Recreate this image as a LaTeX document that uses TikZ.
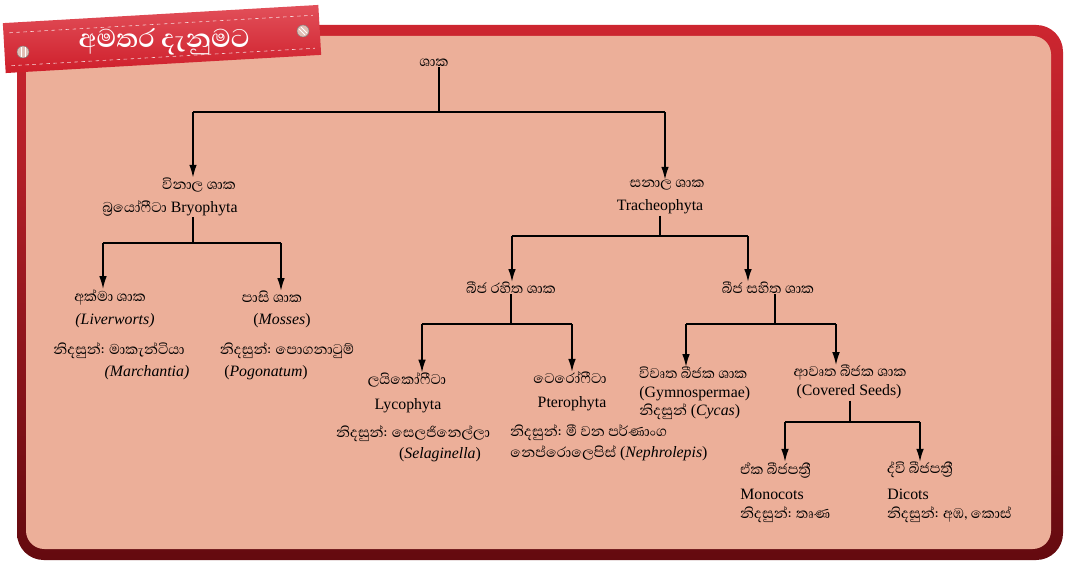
\documentclass[tikz,border=0pt]{standalone}
\usepackage{fontspec}
\setmainfont{Liberation Serif}
\newfontfamily\sinfont[Script=Sinhala]{Abhaya Libre}
\usetikzlibrary{arrows.meta}
\definecolor{panel}{RGB}{236,175,153}
\definecolor{framered}{RGB}{205,38,48}
\definecolor{framedark}{RGB}{100,10,15}
\definecolor{ribbon}{RGB}{206,30,42}
\definecolor{ribbonlight}{RGB}{226,80,90}
\definecolor{screw}{RGB}{226,190,180}
\newcommand{\snh}[1]{{\sinfont\fontsize{15.5}{18}\selectfont #1}}
\begin{document}
\begin{tikzpicture}[x=0.03cm, y=-0.03cm,
  sn/.style={font=\sinfont\fontsize{15.5}{18}\selectfont, inner sep=0pt},
  en/.style={font=\fontsize{13.5}{16}\selectfont, inner sep=1pt},
  ln/.style={line width=1.3pt},
  arr/.style={ln, -{Latex[length=11pt,width=6.5pt]}}]
  \useasboundingbox (0,0) rectangle (1065,563);
  \fill[white] (0,0) rectangle (1065,563);
  % frame
  \shade[top color=framered, bottom color=framedark, rounded corners=0.8cm] (17,25) rectangle (1063,560);
  \fill[panel, rounded corners=0.55cm] (26,36) rectangle (1051,549);
  % ribbon
  \begin{scope}[shift={(162,39)}, rotate=3.3]
    \shade[top color=ribbonlight, bottom color=ribbon] (-158,-25) rectangle (158,25);
    \draw[white, dashed, line width=0.5pt, opacity=0.8] (-152,-15) -- (152,-15);
    \draw[white, dashed, line width=0.5pt, opacity=0.8] (-152,18) -- (152,18);
    \node[white, font=\sinfont\bfseries\fontsize{28}{32}\selectfont] (banner) at (2,3) {අමතර දැනුමට};
  \end{scope}
  \filldraw[fill=screw, draw=gray] (23,52) circle (0.18cm);
  \draw[white, line width=0.8pt] (21,47) -- (21,57) (25,47) -- (25,57);
  \filldraw[fill=screw, draw=gray] (303,31) circle (0.18cm);
  \draw[white, line width=0.8pt] (299,29) -- (305,35) (301,27) -- (307,33);
  % tree
  \node[sn] (root) at (434,63) {ශාක};
  \node[sn] (bryo) at (199,185) {විනාල ශාක};
  \node[en] (bryoB) at (170,208) {\snh{බ්‍රයෝෆීටා} Bryophyta};
  \node[sn] (trach) at (667,185) {සනාල ශාක};
  \node[en] (trachB) at (660,207) {Tracheophyta};
  \node[sn] (liver) at (110,297) {අක්මා ශාක};
  \node[en] (liverB) at (115,321) {\textit{(Liverworts)}};
  \node[sn] (liverC) at (119,351) {නිදසුන්: මාකැන්ටියා};
  \node[en] (liverD) at (147,373) {\textit{(Marchantia)}};
  \node[sn] (moss) at (272,297) {පාසි ශාක};
  \node[en] (mossB) at (282,321) {(\textit{Mosses})};
  \node[sn] (mossC) at (287,351) {නිදසුන්: පොගනාටුම්};
  \node[en] (mossD) at (266,373) {(\textit{Pogonatum})};
  \node[sn] (seedless) at (511,288) {බීජ රහිත ශාක};
  \node[sn] (seeded) at (768,288) {බීජ සහිත ශාක};
  \node[sn] (lyco) at (407,380) {ලයිකෝෆීටා};
  \node[en] (lycoB) at (408,406) {Lycophyta};
  \node[sn] (lycoC) at (413,434) {නිදසුන්: සෙලජිනෙල්ලා};
  \node[en] (lycoD) at (440,455) {(\textit{Selaginella})};
  \node[sn] (ptero) at (570,378) {ටෙරෝෆීටා};
  \node[en] (pteroB) at (572,404) {Pterophyta};
  \node[sn, anchor=west] (pteroC) at (510,433) {නිදසුන්: මී වන පර්ණාංග};
  \node[en, anchor=west] (pteroD) at (509,453) {\snh{නෙප්රොලෙපිස්} (\textit{Nephrolepis})};
  \node[sn, anchor=west] (gymno) at (639,373) {විවෘත බීජක ශාක};
  \node[en, anchor=west] (gymnoB) at (638,394) {(Gymnospermae)};
  \node[en, anchor=west] (gymnoC) at (638,412) {\snh{නිදසුන්} (\textit{Cycas})};
  \node[sn] (angio) at (850,373) {ආවෘත බීජක ශාක};
  \node[en] (angioB) at (849,392) {(Covered Seeds)};
  \node[sn, anchor=west] (mono) at (740,470) {ඒක බීජපත්‍රී};
  \node[en, anchor=west] (monoB) at (739,494) {Monocots};
  \node[sn, anchor=west] (monoC) at (740,515) {නිදසුන්: තෘණ};
  \node[sn, anchor=west] (dicot) at (887,470) {ද්වි බීජපත්‍රී};
  \node[en, anchor=west] (dicotB) at (886,494) {Dicots};
  \node[sn, anchor=west] (dicotC) at (887,515) {නිදසුන්: අඹ, කොස්};
  % branches
  \coordinate (s1) at (439,112); \coordinate (b1l) at (193,112); \coordinate (b1r) at (665,112);
  \coordinate (s2) at (193,243); \coordinate (b2l) at (103,243); \coordinate (b2r) at (281,243);
  \coordinate (s3) at (660,236); \coordinate (b3l) at (512,236); \coordinate (b3r) at (748,236);
  \coordinate (s4) at (511,324); \coordinate (b4l) at (422,324); \coordinate (b4r) at (572,324);
  \coordinate (s5) at (775,324); \coordinate (b5l) at (686,324); \coordinate (b5r) at (836,324);
  \coordinate (s6) at (850,422); \coordinate (b6l) at (785,422); \coordinate (b6r) at (920,422);
  \draw[ln] (s1 |- root.south) -- (s1);
  \draw[ln] (b1l) -- (b1r);
  \draw[arr] (b1l) -- (b1l |- bryo.north);
  \draw[arr] (b1r) -- (b1r |- trach.north);
  \draw[ln] (s2 |- bryoB.south) -- (s2);
  \draw[ln] (b2l) -- (b2r);
  \draw[arr] (b2l) -- (b2l |- liver.north);
  \draw[arr] (b2r) -- (b2r |- moss.north);
  \draw[ln] (s3 |- trachB.south) -- (s3);
  \draw[ln] (b3l) -- (b3r);
  \draw[arr] (b3l) -- (b3l |- seedless.north);
  \draw[arr] (b3r) -- (b3r |- seeded.north);
  \draw[ln] (s4 |- seedless.south) -- (s4);
  \draw[ln] (b4l) -- (b4r);
  \draw[arr] (b4l) -- (b4l |- lyco.north);
  \draw[arr] (b4r) -- (b4r |- ptero.north);
  \draw[ln] (s5 |- seeded.south) -- (s5);
  \draw[ln] (b5l) -- (b5r);
  \draw[arr] (b5l) -- (b5l |- gymno.north);
  \draw[arr] (b5r) -- (b5r |- angio.north);
  \draw[ln] (s6 |- angioB.south) -- (s6);
  \draw[ln] (b6l) -- (b6r);
  \draw[arr] (b6l) -- (b6l |- mono.north);
  \draw[arr] (b6r) -- (b6r |- dicot.north);
\end{tikzpicture}
\end{document}
